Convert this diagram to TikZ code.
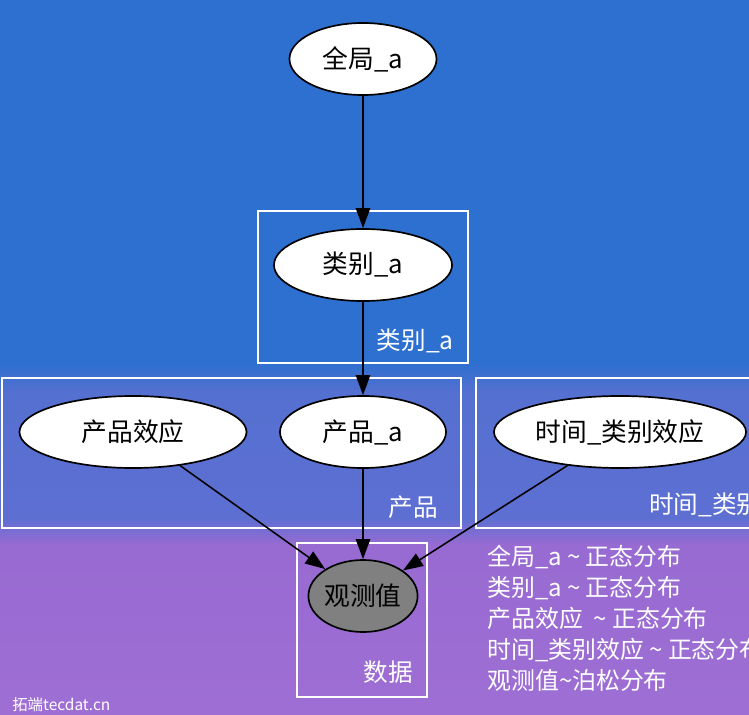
\documentclass[tikz,border=0pt]{standalone}
\usepackage{fontspec}
\setmainfont{Noto Sans CJK SC}
\usetikzlibrary{shapes.geometric,arrows.meta}
\definecolor{bgblue}{HTML}{2D70D0}
\definecolor{bgmid}{HTML}{5470D0}
\definecolor{bgmidlow}{HTML}{5E6FD2}
\definecolor{bgpurple}{HTML}{986BD2}
\definecolor{bgpurplelow}{HTML}{9E6ED4}
\definecolor{obsgray}{HTML}{808080}

\begin{document}
\begin{tikzpicture}[x=0.025cm,y=-0.025cm,
  var/.style={ellipse,draw=black,line width=1.2pt,fill=white,inner sep=0pt,minimum height=1.8cm,font=\fontsize{18.3}{22}\selectfont},
  plate/.style={draw=white,line width=1.5pt},
  platelbl/.style={text=white,inner sep=0pt,font=\fontsize{17.5}{21}\selectfont},
  arr/.style={-{Triangle[length=0.5cm,width=0.36cm]},line width=1.1pt,black}]
\useasboundingbox (0,0) rectangle (749,715);
\clip (0,0) rectangle (749,715);
% background
\fill[bgblue] (0,0) rectangle (749,362);
\shade[top color=bgblue,bottom color=bgmid] (0,362) rectangle (749,392);
\shade[top color=bgmid,bottom color=bgmidlow] (0,392) rectangle (749,518);
\shade[top color=bgmidlow,bottom color=bgpurple] (0,518) rectangle (749,545);
\shade[top color=bgpurple,bottom color=bgpurplelow] (0,545) rectangle (749,715);
% plates
\draw[plate] (258,211) rectangle (468,363);
\draw[plate] (2,378) rectangle (461,528);
\draw[plate] (476,378) rectangle (770,528);
\draw[plate] (297,543) rectangle (427,697);
\node[platelbl,anchor=east] (catlbl) at (454,341) {类别\_a};
\node[platelbl,anchor=east] (prodlbl) at (438,507) {产品};
\node[platelbl,anchor=west] (timelbl) at (649,505) {时间\_类别};
\node[platelbl,anchor=east] (datalbl) at (413,672) {数据};
% variables
\node[var,minimum width=3.675cm] (glob) at (363,59) {全局\_a};
\node[var,minimum width=4.45cm] (cat) at (363,265) {类别\_a};
\node[var,minimum width=5.675cm] (prodeff) at (133,432) {产品效应};
\node[var,minimum width=4.15cm] (prod) at (363,432) {产品\_a};
\node[var,minimum width=6.3cm] (timecat) at (620,432) {时间\_类别效应};
\node[var,fill=obsgray,minimum width=2.525cm] (obs) at (363,596) {观测值};
\draw[arr] (glob) -- (cat);
\draw[arr] (cat) -- (prod);
\draw[arr] (prodeff) -- (obs);
\draw[arr] (prod) -- (obs);
\draw[arr] (timecat) -- (obs);
% distributions
\node[platelbl,anchor=north west,align=left,font=\fontsize{17}{22}\selectfont] (dists) at (487,545)
  {全局\_a \textasciitilde{} 正态分布\\类别\_a \textasciitilde{} 正态分布\\产品效应\ \ \textasciitilde{} 正态分布\\时间\_类别效应 \textasciitilde{} 正态分布\\观测值\textasciitilde{}泊松分布};
\node[text=white,anchor=west,inner sep=0pt,font=\fontsize{11}{13}\selectfont] (mark) at (12,705) {拓端tecdat.cn};
\end{tikzpicture}
\end{document}
